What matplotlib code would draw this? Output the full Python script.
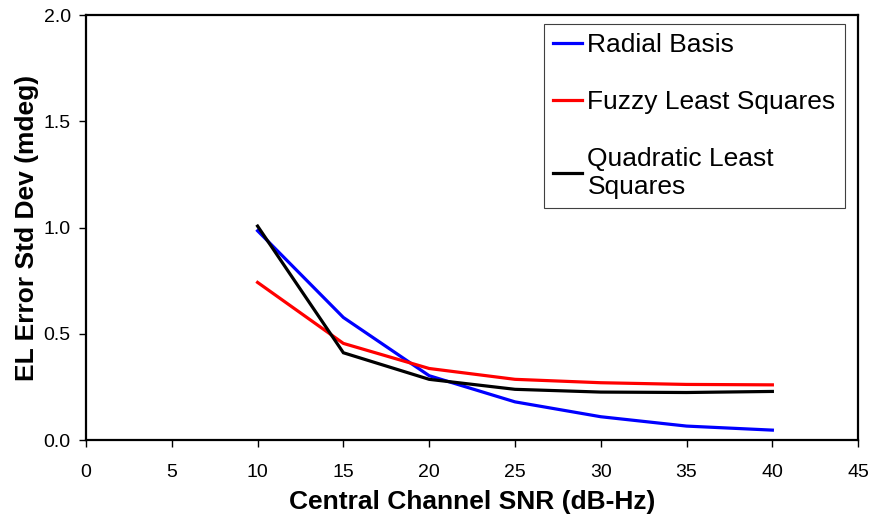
import matplotlib
matplotlib.use("Agg")
import matplotlib.pyplot as plt

# SNR values (dB-Hz)
snr = [10, 15, 20, 25, 30, 35, 40]

# EL error std dev (mdeg)
radial_basis = [0.985, 0.577, 0.303, 0.180, 0.110, 0.066, 0.047]
fuzzy_ls = [0.742, 0.455, 0.337, 0.286, 0.270, 0.262, 0.260]
quadratic_ls = [1.007, 0.411, 0.286, 0.239, 0.226, 0.224, 0.229]

labels = ["Radial Basis", "Fuzzy Least Squares", "Quadratic Least\nSquares"]
colors = ["#0000ff", "#ff0000", "#000000"]

xticks = [0, 5, 10, 15, 20, 25, 30, 35, 40, 45]
yticks = [0.0, 0.5, 1.0, 1.5, 2.0]

plt.rcParams['font.family'] = ['Liberation Sans', 'DejaVu Sans']

fig = plt.figure(figsize=(8.73, 5.19), dpi=100)
ax = fig.add_axes([0.0985, 0.152, 0.8845, 0.819])

for ys, lab, c in zip([radial_basis, fuzzy_ls, quadratic_ls], labels, colors):
    ax.plot(snr, ys, color=c, lw=2.3, label=lab, solid_joinstyle='miter')

ax.set_xlim(0, 45)
ax.set_ylim(0, 2.0)
ax.set_xticks(xticks)
ax.set_yticks(yticks)
ax.set_yticklabels([f"{v:.1f}" for v in yticks])
ax.tick_params(direction='out', length=5, width=1, labelsize=14)
ax.tick_params(axis='x', pad=12)
ax.tick_params(axis='y', pad=6)

for sp in ax.spines.values():
    sp.set_linewidth(1.6)

ax.set_xlabel("Central Channel SNR (dB-Hz)", fontsize=19, fontweight='bold', labelpad=7)
ax.set_ylabel("EL Error Std Dev (mdeg)", fontsize=19, fontweight='bold', labelpad=3)

leg = ax.legend(loc='upper left', bbox_to_anchor=(0.593, 0.979), fontsize=19,
                handlelength=1.1, handletextpad=0.2, labelspacing=1.25,
                borderpad=0.35, borderaxespad=0, fancybox=False, framealpha=1)
leg.get_frame().set_edgecolor('#404040')
leg.get_frame().set_linewidth(0.8)

fig.savefig("out.png", dpi=100)
